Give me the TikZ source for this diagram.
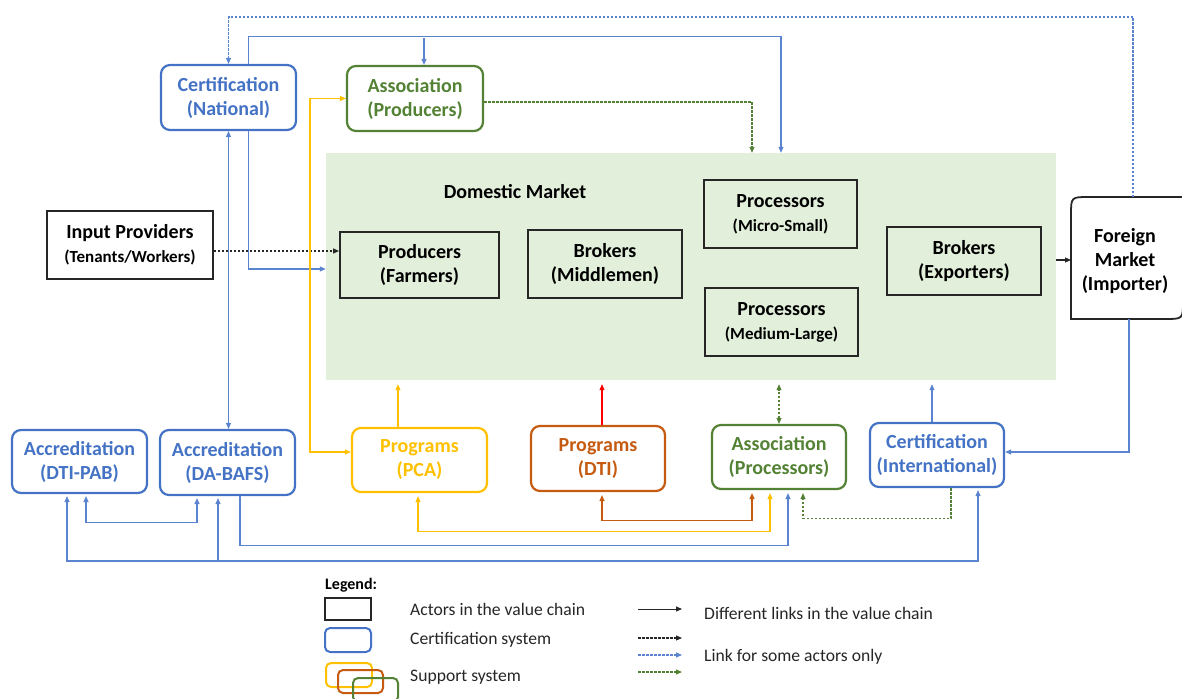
\documentclass[tikz,border=0pt]{standalone}
\usepackage{fontspec}
\setmainfont{Carlito}
\usetikzlibrary{arrows.meta,calc}
\definecolor{cblue}{HTML}{4472C4}
\definecolor{lblue}{HTML}{5B84D0}
\definecolor{cgreen}{HTML}{548235}
\definecolor{cyellow}{HTML}{FFC000}
\definecolor{corange}{HTML}{C55A11}
\definecolor{cred}{HTML}{FF0000}
\definecolor{dmfill}{HTML}{E2EFDA}
\definecolor{txt}{HTML}{262626}
\newcommand{\subfnt}{\bfseries\fontsize{17}{21}\selectfont}
\begin{document}
\begin{tikzpicture}[x=1pt,y=-1pt,
  >={Triangle[length=6pt,width=5pt]},
  bigfont/.style={font=\bfseries\fontsize{20}{24}\selectfont},
  rbox/.style={line width=2.2pt, rounded corners=9pt, align=center, inner sep=0pt, bigfont},
  certbox/.style={rbox, draw=cblue, text=cblue},
  greenbox/.style={rbox, draw=cgreen, text=cgreen},
  yellowbox/.style={rbox, draw=cyellow, text=cyellow},
  orangebox/.style={rbox, draw=corange, text=corange},
  actor/.style={draw=txt, line width=1.8pt, align=center, inner sep=0pt, bigfont, text=black},
  conn/.style={line width=1.1pt, ->},
  bconn/.style={conn, draw=lblue},
  gconn/.style={conn, draw=cgreen},
  yconn/.style={conn, draw=cyellow},
  oconn/.style={conn, draw=corange},
  rconn/.style={conn, draw=cred},
  kconn/.style={conn, draw=txt},
  dsh/.style={line width=1.05pt, dash pattern=on 2.5pt off 1.5pt},
  legtext/.style={anchor=west, font=\fontsize{17.6}{20}\selectfont, text=txt, inner sep=0pt}
]
\useasboundingbox (0,0) rectangle (1182,698);

% Domestic market
\node[fill=dmfill, minimum width=730pt, minimum height=227pt, inner sep=0pt] (dm) at (691,266.5) {};
\node[bigfont] (dmlabel) at (515,192) {Domestic Market};

% Top boxes
\node[certbox, minimum width=135pt, minimum height=65pt] (cn) at (228.5,97.5) {Certification\\(National)};
\node[greenbox, minimum width=136pt, minimum height=65pt] (ap) at (415,98.5) {Association\\(Producers)};

% Actors
\node[actor, minimum width=166pt, minimum height=68pt] (ip) at (130,245) {Input Providers\\{\subfnt(Tenants/Workers)}};
\node[actor, minimum width=159pt, minimum height=66pt] (pf) at (419.5,265) {Producers\\(Farmers)};
\node[actor, minimum width=154pt, minimum height=68pt] (bm) at (605,264) {Brokers\\(Middlemen)};
\node[actor, minimum width=153pt, minimum height=68pt] (pms) at (780.5,214) {Processors\\{\subfnt(Micro-Small)}};
\node[actor, minimum width=153pt, minimum height=68pt] (pml) at (781.5,322) {Processors\\{\subfnt(Medium-Large)}};
\node[actor, minimum width=154pt, minimum height=68pt] (be) at (964,261) {Brokers\\(Exporters)};
\node[align=center, inner sep=0pt, bigfont, minimum width=112pt, minimum height=122pt] (fm) at (1125,261) {Foreign\\Market\\(Importer)};
\coordinate (fmNW) at (1071,197);
\coordinate (fmSE) at (1183,319);
\draw[draw=txt, line width=1.8pt] (fmNW |- fmSE) -- ([yshift=-18pt]fmNW)
  .. controls (fmNW) .. ([xshift=18pt]fmNW) -- (fmSE |- fmNW)
  -- ([yshift=18pt]fmSE) .. controls (fmSE) .. ([xshift=-18pt]fmSE) -- cycle;

% Bottom boxes
\node[certbox, minimum width=135pt, minimum height=63pt] (dtipab) at (79.5,461.5) {Accreditation\\(DTI-PAB)};
\node[certbox, minimum width=135pt, minimum height=65pt] (dabafs) at (227.5,462.5) {Accreditation\\(DA-BAFS)};
\node[yellowbox, minimum width=135pt, minimum height=64pt] (pca) at (419.5,460) {Programs\\(PCA)};
\node[orangebox, minimum width=134pt, minimum height=65pt] (dti) at (598,458.5) {Programs\\(DTI)};
\node[greenbox, minimum width=134pt, minimum height=64pt] (apr) at (779,457) {Association\\(Processors)};
\node[certbox, minimum width=134pt, minimum height=64pt] (ci) at (937,455) {Certification\\(International)};

% helper coordinates
\coordinate (top1) at (0,17);
\coordinate (top2) at (0,38);
\coordinate (fmN) at (1133,197);
\coordinate (fmS) at (1129,319);
\coordinate (fmW) at (1071,260);
\coordinate (dmA) at ([xshift=90pt]dm.north);
\coordinate (dmB) at ([xshift=61pt]dm.north);
\coordinate (apA) at ([xshift=9pt]ap.north);
\coordinate (ipE) at ([yshift=-6pt]ip.east);
\coordinate (yx) at (310,0);
\coordinate (pcaN) at ([xshift=-21.5pt]pca.north);
\coordinate (dtiN) at ([xshift=4pt]dti.north);
\coordinate (ciN) at ([xshift=-5pt]ci.north);
\coordinate (bus) at (0,561);
\coordinate (ciB) at ([xshift=41pt]ci.south);
\coordinate (dbB) at ([xshift=-9.5pt]dabafs.south);

% top connectors
\draw[bconn,dsh] (fmN) |- (top1 -| cn.north) -- (cn.north);
\draw[bconn] ([xshift=20pt]cn.north) -- ++(0,-27) -| (dmA);
\draw[bconn] (apA |- top2) -- (apA);
\draw[gconn,dsh] ([yshift=-3.5pt]ap.east) -| (dmB);
\draw[kconn,dsh] (ipE) -- (ipE -| pf.west);
\draw[bconn] ([xshift=20pt]cn.south) |- ([yshift=-2.5pt]dm.west);
\draw[bconn,<->] (cn.south) -- (cn.south |- dabafs.north);
\draw[yconn,<->] (ap.west) -- (ap.west -| yx) |- ([yshift=8pt]pca.west);

% into domestic market from below
\draw[yconn, shorten >=4pt] (pcaN) -- (pcaN |- dm.south);
\draw[rconn, shorten >=4pt] (dtiN) -- (dtiN |- dm.south);
\draw[gconn, dsh, <->, shorten >=4pt] (apr.north) -- (apr.north |- dm.south);
\draw[bconn, shorten >=4pt] (ciN) -- (ciN |- dm.south);

% to / from foreign market
\draw[kconn] (fmW -| dm.east) -- (fmW);
\draw[bconn] (fmS) |- ([yshift=3pt]ci.east);

% bottom connectors
\draw[bconn,<->, shorten >=2pt, shorten <=2pt] ([xshift=6.5pt]dtipab.south) -- ++(0,28) -| ([xshift=-30.5pt]dabafs.south);
\draw[bconn,<->, shorten >=2pt, shorten <=2pt] ([xshift=-12.5pt]dtipab.south) |- (bus -| ciB) -- (ciB);
\draw[bconn, shorten >=2pt] (bus -| dbB) -- (dbB);
\draw[bconn, shorten >=3pt] ([xshift=12.5pt]dabafs.south) -- ++(0,49) -| ([xshift=9pt]apr.south);
\draw[oconn,<->, shorten >=3pt, shorten <=3pt] ([xshift=4pt]dti.south) -- ++(0,28) -| ([xshift=-27pt]apr.south);
\draw[yconn,<->, shorten >=3pt, shorten <=3pt] ([xshift=-1.5pt]pca.south) -- ++(0,38) -| ([xshift=-9pt]apr.south);
\draw[gconn,dsh, shorten >=3pt] ([xshift=14pt]ci.south) -- ++(0,30) -| ([xshift=24pt]apr.south);

% Legend
\node[anchor=west, inner sep=0pt, font=\bfseries\fontsize{16}{19}\selectfont, text=black] (lg) at (325,585) {Legend:};
\draw[draw=txt, line width=1.6pt] (325,598) rectangle (371,620);
\draw[draw=cblue, line width=2pt, rounded corners=5pt] (325,628) rectangle (371,652);
\draw[draw=cyellow, line width=2pt, rounded corners=5pt] (326,663) rectangle (372,687);
\draw[draw=corange, line width=2pt, rounded corners=5pt] (338,670) rectangle (383,693);
\draw[draw=cgreen, line width=2pt, rounded corners=5pt] (353,678) rectangle (398,702);
\node[legtext] (l1) at (410,609) {Actors in the value chain};
\node[legtext] (l2) at (410,640) {Certification system};
\node[legtext] (l3) at (410,677) {Support system};
\node[legtext] (l4) at (704,613) {Different links in the value chain};
\node[legtext] (l5) at (704,657) {Link for some actors only};
\draw[kconn, line width=0.9pt] (638,609) -- (682,609);
\draw[kconn, dsh] (638,638) -- (682,638);
\draw[bconn, dsh] (638,655) -- (682,655);
\draw[gconn, dsh] (638,672) -- (682,672);
\end{tikzpicture}
\end{document}
